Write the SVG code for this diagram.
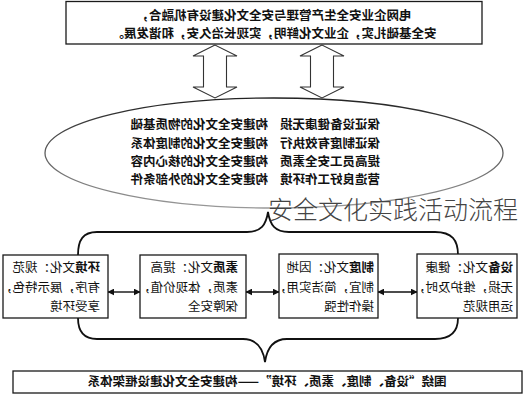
<svg xmlns="http://www.w3.org/2000/svg" width="525" height="400" viewBox="0 0 525 400">
<defs>
<style>
.t{font-family:"Noto Sans CJK SC","Noto Sans",sans-serif;fill:#111}
.b{font-weight:bold}
.box{fill:#fff;stroke:#1a1a1a;stroke-width:1.3}
.bt{font-size:12.5px}
.et{font-size:12.5px;font-weight:bold}
.br{fill:none;stroke:#111;stroke-width:1.8}
.ln{stroke:#111;stroke-width:1.4;fill:none}
.ba{fill:#fff;stroke:#333;stroke-width:1.1}
</style>
<marker id="ah" viewBox="0 0 10 10" refX="9" refY="5" markerWidth="7" markerHeight="7" orient="auto-start-reverse" markerUnits="userSpaceOnUse">
<path d="M0,0 L10,5 L0,10 z" fill="#111"/>
</marker>
<linearGradient id="eg" x1="0" y1="0" x2="0" y2="1">
<stop offset="0" stop-color="#222"/>
<stop offset="1" stop-color="#999"/>
</linearGradient>
</defs>
<rect width="525" height="400" fill="#fff"/>
<g transform="matrix(-1 0 0 1 525 0)">
<g id="goal">
<rect class="box" x="43" y="1.5" width="416" height="42.5"/>
<text class="t b" font-size="12.5" x="251" y="20" text-anchor="middle">电网企业安全生产管理与安全文化建设有机融合，</text>
<text class="t b" font-size="12.5" x="251" y="38" text-anchor="middle">安全基础扎实，企业文化鲜明，实现长治久安，和谐发展。</text>
</g>
<g id="connectors">
<polygon class="ba" points="310,45 332,56 321.5,56 321.5,87 332,87 310,98 288,87 298.5,87 298.5,56 288,56"/>
<polygon class="ba" points="203,45 225,56 214.5,56 214.5,87 225,87 203,98 181,87 191.5,87 191.5,56 181,56"/>
<path class="br" d="M67,255 C67,240 73,232 90,232 L236,232 C250,232 255,225 257,212 C259,225 264,232 278,232 L428,232 C442,232 447,240 447,255"/>
<path class="br" d="M67,318 C67,332 74,339 90,339 L238,339 C252,339 258,348 260,362 C262,348 268,339 282,339 L428,339 C441,339 447,332 447,318"/>
<line class="ln" x1="108" y1="292" x2="147" y2="292" marker-start="url(#ah)" marker-end="url(#ah)"/>
<line class="ln" x1="246" y1="292" x2="279" y2="292" marker-start="url(#ah)" marker-end="url(#ah)"/>
<line class="ln" x1="385" y1="292" x2="417" y2="292" marker-start="url(#ah)" marker-end="url(#ah)"/>
</g>
<g id="measures">
<ellipse cx="251" cy="153" rx="229" ry="55" fill="none" stroke="url(#eg)" stroke-width="1.3"/>
<text class="t et" x="145" y="129">保证设备健康无损</text>
<text class="t et" x="257" y="129">构建安全文化的物质基础</text>
<text class="t et" x="145" y="148">保证制度有效执行</text>
<text class="t et" x="257" y="148">构建安全文化的制度体系</text>
<text class="t et" x="145" y="166">提高员工安全素质</text>
<text class="t et" x="257" y="166">构建安全文化的核心内容</text>
<text class="t et" x="145" y="184">营造良好工作环境</text>
<text class="t et" x="257" y="184">构建安全文化的外部条件</text>
</g>
<g id="equipment">
<rect class="box" x="8" y="254" width="100" height="64"/>
<text class="t bt" x="12" y="272"><tspan class="b">设备</tspan>文化：健康</text>
<text class="t bt" x="12" y="292">无损，维护及时，</text>
<text class="t bt" x="12" y="311">运用规范</text>
</g>
<g id="system">
<rect class="box" x="147" y="254" width="99" height="64"/>
<text class="t bt" x="151" y="272"><tspan class="b">制度</tspan>文化：因地</text>
<text class="t bt" x="151" y="292">制宜，简洁实用，</text>
<text class="t bt" x="151" y="311">操作性强</text>
</g>
<g id="quality">
<rect class="box" x="279" y="255" width="106" height="63"/>
<text class="t bt" x="287" y="272"><tspan class="b">素质</tspan>文化：提高</text>
<text class="t bt" x="287" y="292">素质，体现价值，</text>
<text class="t bt" x="287" y="311">保障安全</text>
</g>
<g id="environment">
<rect class="box" x="417" y="255" width="105" height="63"/>
<text class="t bt" x="425" y="272"><tspan class="b">环境</tspan>文化：规范</text>
<text class="t bt" x="425" y="292">有序，展示特色，</text>
<text class="t bt" x="425" y="311">享受环境</text>
</g>
<g id="framework">
<rect class="box" x="3" y="371" width="509" height="22"/>
<text class="t b" font-size="12.5" x="258" y="386" text-anchor="middle">围绕“设备、制度、素质、环境”——构建安全文化建设框架体系</text>
</g>
</g>
<text class="t" font-size="25" font-weight="300" x="268" y="219" style="fill:#444">安全文化实践活动流程</text>
</svg>
